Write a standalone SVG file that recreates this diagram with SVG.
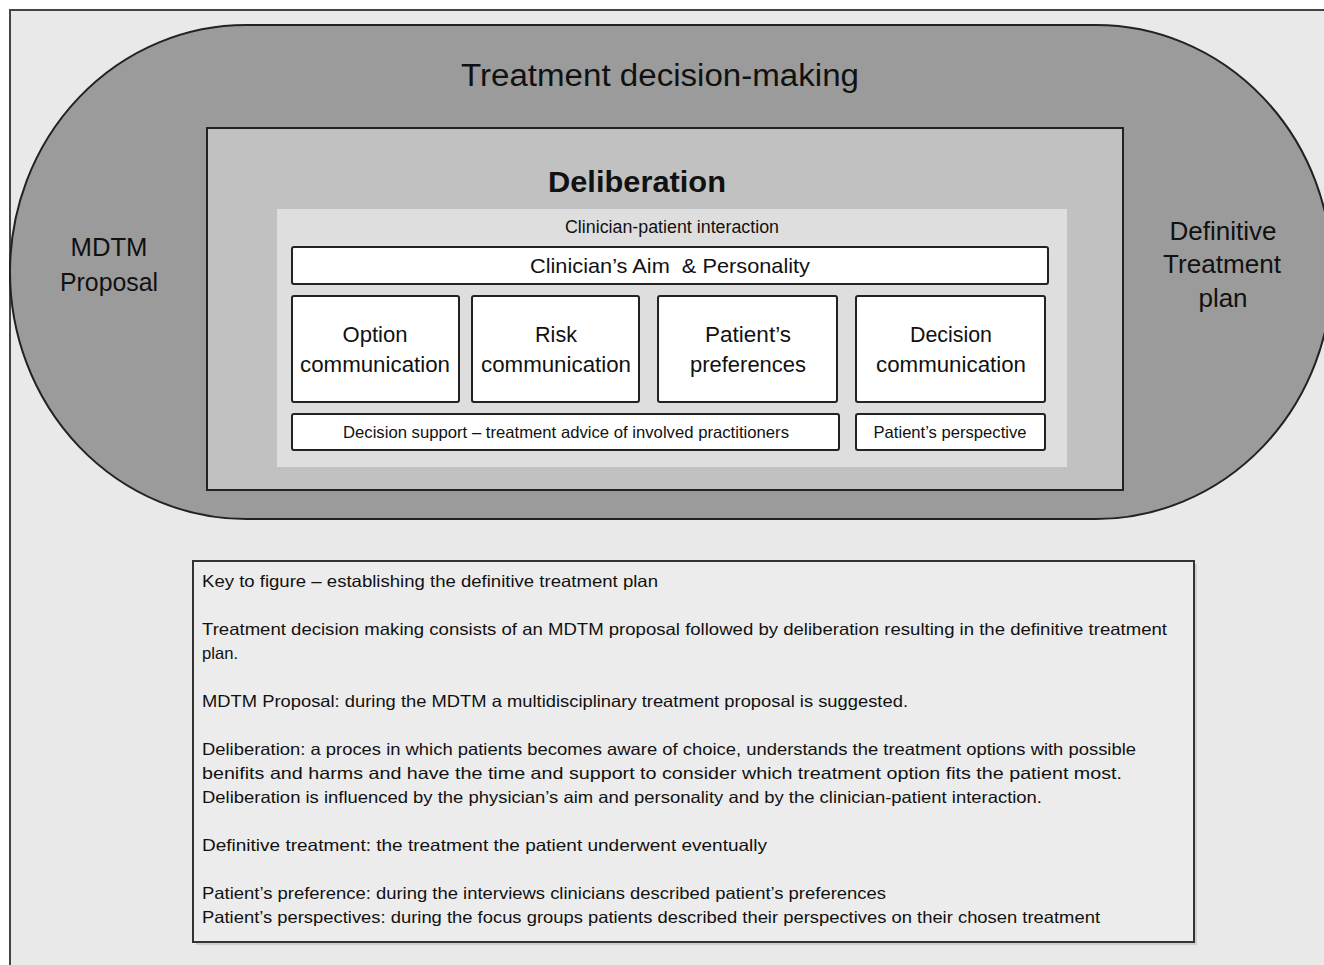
<svg xmlns="http://www.w3.org/2000/svg" width="1324" height="965" viewBox="0 0 1324 965">
<style>
text{font-family:"Liberation Sans",Arial,sans-serif;fill:#111;}
.c{text-anchor:middle;}
.box{fill:#fff;stroke:#222;stroke-width:2;}
.key{font-size:16.5px;}
.big{font-size:26px;}
.mid{font-size:21.5px;}
</style>
<rect x="0" y="0" width="1324" height="965" fill="#fff"/>
<rect id="frame" x="10" y="10" width="1330" height="970" fill="#e9e9e9" stroke="#444" stroke-width="2"/>
<g id="treatment-decision-making">
<rect x="10" y="25" width="1322" height="494" rx="236" ry="247" fill="#9b9b9b" stroke="#222" stroke-width="2"/>
<text class="c" x="660" y="86" font-size="31" textLength="398" lengthAdjust="spacingAndGlyphs">Treatment decision-making</text>
</g>
<g id="mdtm-proposal">
<text class="c big" x="109" y="256" textLength="77" lengthAdjust="spacingAndGlyphs">MDTM</text>
<text class="c big" x="109" y="291" textLength="98" lengthAdjust="spacingAndGlyphs">Proposal</text>
</g>
<g id="definitive-plan">
<text class="c big" x="1223" y="240" textLength="107" lengthAdjust="spacingAndGlyphs">Definitive</text>
<text class="c big" x="1222" y="273" textLength="118" lengthAdjust="spacingAndGlyphs">Treatment</text>
<text class="c big" x="1223" y="307">plan</text>
</g>
<g id="deliberation">
<rect x="207" y="128" width="916" height="362" fill="#c1c1c1" stroke="#222" stroke-width="2"/>
<text class="c" x="637" y="192" font-size="30" font-weight="bold" textLength="178" lengthAdjust="spacingAndGlyphs">Deliberation</text>
</g>
<g id="clinician-patient-interaction">
<rect x="277" y="209" width="790" height="258" fill="#dedede"/>
<text class="c" x="672" y="233" font-size="17.5" textLength="214" lengthAdjust="spacingAndGlyphs">Clinician-patient interaction</text>
</g>
<g id="aim-personality">
<rect class="box" x="292" y="247" width="756" height="37" rx="2"/>
<text class="c" x="670" y="273" font-size="21" textLength="280" lengthAdjust="spacingAndGlyphs">Clinician’s Aim&#160; &amp; Personality</text>
</g>
<g id="option-communication">
<rect class="box" x="292" y="296" width="167" height="106" rx="2"/>
<text class="c mid" x="375" y="342" textLength="65" lengthAdjust="spacingAndGlyphs">Option</text>
<text class="c mid" x="375" y="372" textLength="150" lengthAdjust="spacingAndGlyphs">communication</text>
</g>
<g id="risk-communication">
<rect class="box" x="472" y="296" width="167" height="106" rx="2"/>
<text class="c mid" x="556" y="342">Risk</text>
<text class="c mid" x="556" y="372" textLength="150" lengthAdjust="spacingAndGlyphs">communication</text>
</g>
<g id="patients-preferences">
<rect class="box" x="658" y="296" width="179" height="106" rx="2"/>
<text class="c mid" x="748" y="342" textLength="86" lengthAdjust="spacingAndGlyphs">Patient’s</text>
<text class="c mid" x="748" y="372" textLength="116" lengthAdjust="spacingAndGlyphs">preferences</text>
</g>
<g id="decision-communication">
<rect class="box" x="856" y="296" width="189" height="106" rx="2"/>
<text class="c mid" x="951" y="342" textLength="82" lengthAdjust="spacingAndGlyphs">Decision</text>
<text class="c mid" x="951" y="372" textLength="150" lengthAdjust="spacingAndGlyphs">communication</text>
</g>
<g id="decision-support">
<rect class="box" x="292" y="414" width="547" height="36" rx="2"/>
<text class="c" x="566" y="438" font-size="16.5" textLength="446" lengthAdjust="spacingAndGlyphs">Decision support – treatment advice of involved practitioners</text>
</g>
<g id="patients-perspective">
<rect class="box" x="856" y="414" width="189" height="36" rx="2"/>
<text class="c" x="950" y="438" font-size="16.5" textLength="153" lengthAdjust="spacingAndGlyphs">Patient’s perspective</text>
</g>
<g id="connectors"></g>
<g id="key">
<rect x="196" y="564" width="1001" height="381" fill="#cfcfcf"/>
<rect x="193" y="561" width="1001" height="381" fill="#ececec" stroke="#333" stroke-width="2"/>
<text class="key" x="202" y="587" textLength="456" lengthAdjust="spacingAndGlyphs">Key to figure – establishing the definitive treatment plan</text>
<text class="key" x="202" y="635" textLength="965" lengthAdjust="spacingAndGlyphs">Treatment decision making consists of an MDTM proposal followed by deliberation resulting in the definitive treatment</text>
<text class="key" x="202" y="659" textLength="36" lengthAdjust="spacingAndGlyphs">plan.</text>
<text class="key" x="202" y="707" textLength="706" lengthAdjust="spacingAndGlyphs">MDTM Proposal: during the MDTM a multidisciplinary treatment proposal is suggested.</text>
<text class="key" x="202" y="755" textLength="934" lengthAdjust="spacingAndGlyphs">Deliberation: a proces in which patients becomes aware of choice, understands the treatment options with possible</text>
<text class="key" x="202" y="779" textLength="920" lengthAdjust="spacingAndGlyphs">benifits and harms and have the time and support to consider which treatment option fits the patient most.</text>
<text class="key" x="202" y="803" textLength="840" lengthAdjust="spacingAndGlyphs">Deliberation is influenced by the physician’s aim and personality and by the clinician-patient interaction.</text>
<text class="key" x="202" y="851" textLength="565" lengthAdjust="spacingAndGlyphs">Definitive treatment: the treatment the patient underwent eventually</text>
<text class="key" x="202" y="899" textLength="684" lengthAdjust="spacingAndGlyphs">Patient’s preference: during the interviews clinicians described patient’s preferences</text>
<text class="key" x="202" y="923" textLength="898" lengthAdjust="spacingAndGlyphs">Patient’s perspectives: during the focus groups patients described their perspectives on their chosen treatment</text>
</g>
</svg>
